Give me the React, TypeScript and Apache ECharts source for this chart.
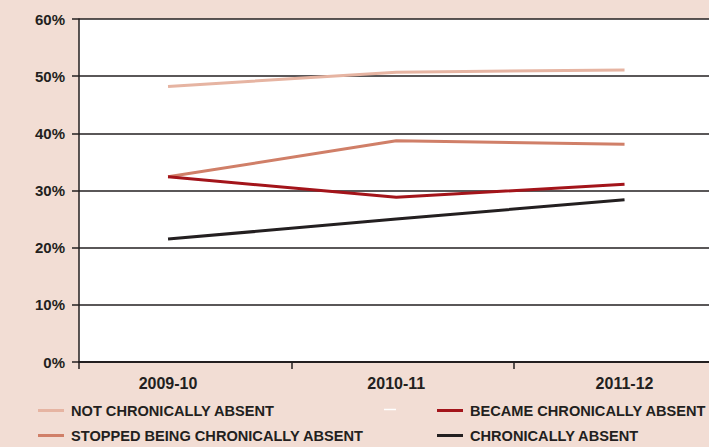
import React, { useEffect, useRef } from "react";
import * as echarts from "echarts";

const categories = ["2009-10", "2010-11", "2011-12"];
const seriesNames = [
  "NOT CHRONICALLY ABSENT",
  "STOPPED BEING CHRONICALLY ABSENT",
  "BECAME CHRONICALLY ABSENT",
  "CHRONICALLY ABSENT",
];
const notChronically = [48.2, 50.7, 51.1];
const stoppedBeing = [32.4, 38.7, 38.1];
const becameChronically = [32.4, 28.8, 31.1];
const chronicallyAbsent = [21.5, 25.0, 28.4];
const xTickValues = [-0.39, 0.543, 1.515];
const yTicks = [0, 10, 20, 30, 40, 50, 60];

const colors = ["#e6b4a2", "#d07f68", "#a3141a", "#231f20"];
const FONT = "Liberation Sans";

export default function App() {
  const ref = useRef<HTMLDivElement>(null);
  useEffect(() => {
    if (!ref.current) return;
    const chart = echarts.init(ref.current, undefined, { renderer: "svg" });
    const allData = [notChronically, stoppedBeing, becameChronically, chronicallyAbsent];
    const legendText = {
      color: "#231f20",
      fontWeight: "bold",
      fontSize: 14.6,
      fontFamily: FONT,
      lineHeight: 15,
      padding: [0, 0, 0, 2],
    };
    chart.setOption({
      animation: false,
      backgroundColor: "#f2ddd4",
      textStyle: { fontFamily: FONT },
      grid: {
        left: 79,
        top: 19,
        right: 0,
        bottom: 85,
        show: true,
        backgroundColor: "#ffffff",
        borderWidth: 0,
      },
      xAxis: {
        type: "value",
        min: -0.39,
        max: 2.37,
        axisLine: { show: true, onZero: false, lineStyle: { color: "#231f20", width: 2 } },
        axisTick: {
          show: true,
          customValues: xTickValues,
          length: 7,
          lineStyle: { color: "#231f20", width: 1.5 },
        },
        axisLabel: {
          customValues: [0, 1, 2],
          formatter: (v: number) => categories[Math.round(v)] ?? "",
          color: "#231f20",
          fontWeight: "bold",
          fontSize: 16,
          fontFamily: FONT,
          margin: 13,
        },
        splitLine: { show: false },
      },
      yAxis: {
        type: "value",
        min: yTicks[0],
        max: yTicks[yTicks.length - 1],
        interval: 10,
        axisLine: { show: true, onZero: false, lineStyle: { color: "#231f20", width: 1.5 } },
        axisTick: { show: true, length: 7, lineStyle: { color: "#231f20", width: 1.5 } },
        axisLabel: {
          formatter: (v: number) => `${v}%`,
          color: "#231f20",
          fontWeight: "bold",
          fontSize: 15,
          fontFamily: FONT,
          margin: 14,
        },
        splitLine: { show: true, lineStyle: { color: "#231f20", width: 1.5 } },
      },
      legend: [
        {
          orient: "vertical",
          left: 38,
          top: 403,
          padding: 0,
          itemWidth: 26,
          itemHeight: 3,
          itemGap: 10,
          icon: "rect",
          data: [seriesNames[0], seriesNames[1]],
          textStyle: legendText,
        },
        {
          orient: "vertical",
          left: 437,
          top: 403,
          padding: 0,
          itemWidth: 26,
          itemHeight: 3,
          itemGap: 10,
          icon: "rect",
          data: [seriesNames[2], seriesNames[3]],
          textStyle: legendText,
        },
      ],
      graphic: [
        {
          type: "line",
          shape: { x1: 384, y1: 409.5, x2: 396, y2: 409.5 },
          style: { stroke: "#ffffff", lineWidth: 1.5 },
          silent: true,
        },
      ],
      series: seriesNames.map((name, i) => ({
        name,
        type: "line",
        data: allData[i].map((v, j) => [j, v]),
        showSymbol: false,
        symbol: "none",
        lineStyle: { color: colors[i], width: 3 },
        itemStyle: { color: colors[i] },
        z: 3 + i,
      })),
    });
    return () => chart.dispose();
  }, []);
  return <div ref={ref} style={{ width: 709, height: 447, position: "absolute", left: 0, top: 0 }} />;
}
